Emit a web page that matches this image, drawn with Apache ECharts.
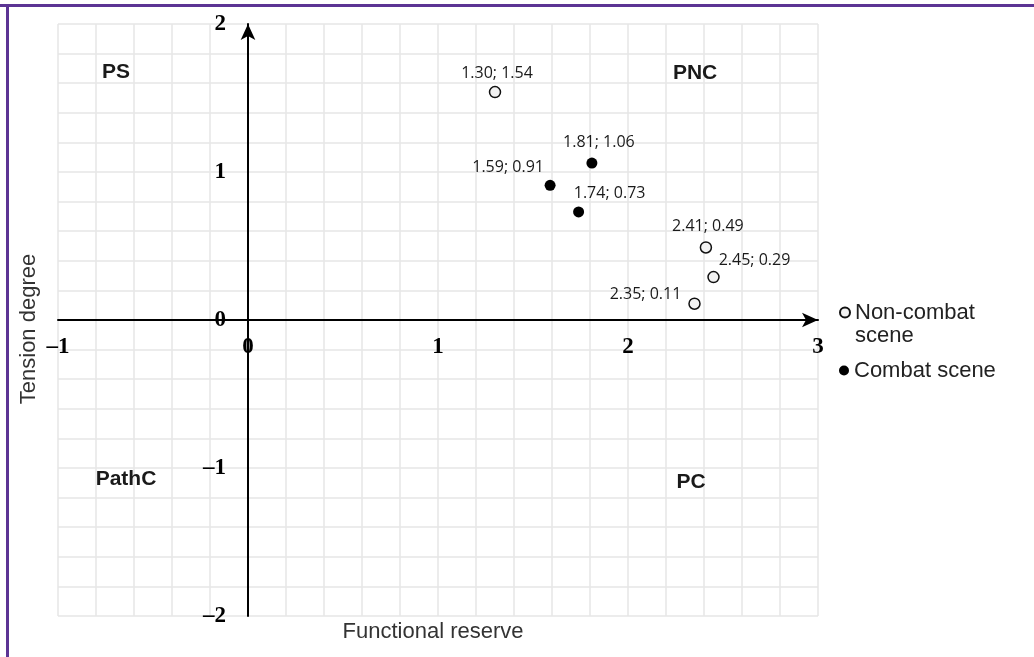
<!DOCTYPE html>
<html><head><meta charset="utf-8">
<script src="https://cdn.jsdelivr.net/npm/echarts@6/dist/echarts.min.js"></script>
<style>html,body{margin:0;padding:0;background:#fff}#c{width:1034px;height:657px}</style>
</head><body><div id="c"></div>
<script>
// ---- data ----
const seriesNames = ['Non-combat scene', 'Combat scene'];
const nonCombatX = [1.30, 2.41, 2.45, 2.35];
const nonCombatY = [1.54, 0.49, 0.29, 0.11];
const combatX = [1.81, 1.59, 1.74];
const combatY = [1.06, 0.91, 0.73];
const quadrantNames = ['PS', 'PNC', 'PathC', 'PC'];
const quadrantX = [-0.695, 2.353, -0.642, 2.332];
const quadrantY = [1.676, 1.669, -1.074, -1.095];
const xTickValues = [-1, 0, 1, 2, 3];
const yTickValues = [-2, -1, 0, 1, 2];
const xTitle = 'Functional reserve';
const yTitle = 'Tension degree';
// ---- label placement (px offsets from point centre) ----
const nonCombatLabelOffset = [[2, -19], [2, -21], [41, -17], [-49, -9]];
const combatLabelOffset = [[7, -21], [-42, -18], [31, -19]];

const fmt = v => (v < 0 ? '\u2013' + Math.abs(v) : String(v));
const ptLabel = (x, y) => x.toFixed(2) + '; ' + y.toFixed(2);

function buildPoints(xs, ys, offs) {
  return xs.map((x, i) => ({
    value: [x, ys[i]],
    label: { show: true, position: 'inside', offset: offs[i], formatter: ptLabel(x, ys[i]) }
  }));
}

const labelFont = { fontFamily: 'Open Sans', fontSize: 16, color: '#1a1a1a', textBorderWidth: 0, textBorderColor: 'transparent' };
const tickFont = { fontFamily: 'Liberation Serif', fontWeight: 'bold', fontSize: 23, color: '#000' };
const gridLine = { show: true, lineStyle: { color: '#e6e6e6', width: 1.5 } };

const chart = echarts.init(document.getElementById('c'));
chart.setOption({
  backgroundColor: '#fff',
  animation: false,
  grid: { left: 58, right: 216, top: 24, bottom: 41 },
  xAxis: {
    type: 'value', min: -1, max: 3, interval: 1, position: 'bottom', offset: -296,
    axisLine: { onZero: false, symbol: ['none', 'arrow'], symbolSize: [11, 16], lineStyle: { color: '#000', width: 2 } },
    axisTick: { show: false },
    axisLabel: Object.assign({ margin: 16, formatter: v => xTickValues.includes(v) ? fmt(v) : '' }, tickFont),
    splitLine: gridLine,
    minorTick: { show: false, splitNumber: 5 },
    minorSplitLine: gridLine
  },
  yAxis: {
    type: 'value', min: -2, max: 2, interval: 1, position: 'left', offset: -190,
    axisLine: { onZero: false, symbol: ['none', 'arrow'], symbolSize: [11, 16], lineStyle: { color: '#000', width: 2 } },
    axisTick: { show: false },
    axisLabel: Object.assign({ margin: 22, formatter: v => yTickValues.includes(v) ? fmt(v) : '' }, tickFont),
    splitLine: gridLine,
    minorTick: { show: false, splitNumber: 5 },
    minorSplitLine: gridLine
  },
  legend: [
    {
      data: [seriesNames[0]], orient: 'vertical', left: 839, top: 278, padding: 0,
      itemWidth: 10, itemHeight: 10,
      formatter: n => ' \n' + n.replace(' ', '\n'),
      textStyle: { fontFamily: 'Liberation Sans', fontSize: 22, lineHeight: 23, color: '#222' }
    },
    {
      data: [seriesNames[1]], orient: 'vertical', left: 839, top: 359, padding: 0,
      itemWidth: 10, itemHeight: 10,
      textStyle: { fontFamily: 'Liberation Sans', fontSize: 22, lineHeight: 23, color: '#222' }
    }
  ],
  graphic: [
    { type: 'rect', shape: { x: 0, y: 4, width: 1034, height: 3 }, style: { fill: '#5c3494' } },
    { type: 'rect', shape: { x: 6, y: 4, width: 3, height: 653 }, style: { fill: '#5c3494' } },
    { type: 'text', x: 433, y: 632, style: { text: xTitle, font: '22px "Liberation Sans"', fill: '#333', align: 'center', verticalAlign: 'middle', textAlign: 'center', textVerticalAlign: 'middle' } },
    { type: 'text', x: 29, y: 329, rotation: Math.PI / 2, style: { text: yTitle, font: '22px "Liberation Sans"', fill: '#333', align: 'center', verticalAlign: 'middle', textAlign: 'center', textVerticalAlign: 'middle' } }
  ],
  series: [
    {
      name: seriesNames[0], type: 'scatter', symbol: 'circle', symbolSize: 11,
      itemStyle: { color: '#f2f2f2', borderColor: '#111', borderWidth: 1.5, opacity: 1 },
      label: labelFont,
      data: buildPoints(nonCombatX, nonCombatY, nonCombatLabelOffset),
      z: 5
    },
    {
      name: seriesNames[1], type: 'scatter', symbol: 'circle', symbolSize: 11,
      itemStyle: { color: '#000', opacity: 1 },
      label: labelFont,
      data: buildPoints(combatX, combatY, combatLabelOffset),
      z: 5
    },
    {
      name: 'quadrants', type: 'scatter', symbolSize: 1, silent: true,
      itemStyle: { color: '#fff', opacity: 1 },
      label: { show: true, position: 'inside', formatter: p => p.name, fontFamily: 'Liberation Sans', fontWeight: 'bold', fontSize: 21, color: '#1a1a1a', textBorderWidth: 0, textBorderColor: 'transparent' },
      data: quadrantNames.map((n, i) => ({ name: n, value: [quadrantX[i], quadrantY[i]] }))
    }
  ]
});
</script>
</body></html>
